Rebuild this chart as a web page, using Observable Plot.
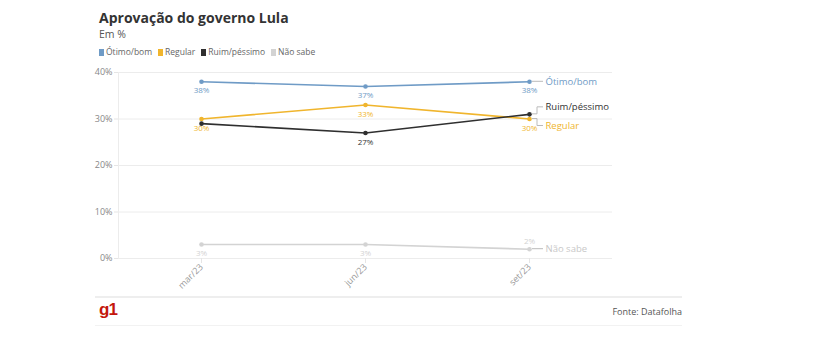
<!DOCTYPE html>
<html><head><meta charset="utf-8">
<script src="https://cdn.jsdelivr.net/npm/d3@7"></script>
<script src="https://cdn.jsdelivr.net/npm/@observablehq/plot@0.6"></script>
<style>
body{margin:0;background:#fff;font-family:"Open Sans",sans-serif;}
#wrap{position:relative;width:825px;height:342px;}
#title{position:absolute;left:99px;top:11px;font-size:14px;line-height:14px;font-weight:700;color:#333;}
#sub{position:absolute;left:99px;top:29px;font-size:10.5px;line-height:11px;color:#555;}
#legend{position:absolute;left:99px;top:46px;font-size:8.5px;color:#666;display:flex;gap:6px;}
#legend span.sw{display:inline-block;width:5px;height:7px;margin-right:2px;vertical-align:-1px;}
#chart{position:absolute;left:0;top:62px;}
#foot1{position:absolute;left:95px;width:587px;top:296px;height:2px;background:#eee;}
#foot2{position:absolute;left:95px;width:587px;top:325px;height:1px;background:#f2f2f2;}
#logo{position:absolute;left:99px;top:300px;font-family:"Liberation Sans",Arial,sans-serif;font-weight:700;font-size:17px;color:#c4170c;letter-spacing:-1px;}
#src{position:absolute;right:143px;top:305px;font-size:9px;color:#555;}
</style></head>
<body><div id="wrap">
<div id="title">Aprovação do governo Lula</div>
<div id="sub">Em %</div>
<div id="legend"></div>
<div id="chart"></div>
<div id="foot1"></div><div id="foot2"></div>
<div id="logo">g1</div>
<div id="src">Fonte: Datafolha</div>
</div>
<script>
const periods = ["mar/23", "jun/23", "set/23"];
const seriesNames = ["Ótimo/bom", "Regular", "Ruim/péssimo", "Não sabe"];
const seriesColors = ["#6f9bc6", "#f0b52d", "#2f2f2f", "#d3d3d3"];
const otimoBom = [38, 37, 38];
const regular = [30, 33, 30];
const ruimPessimo = [29, 27, 31];
const naoSabe = [3, 3, 2];
const yTicks = [0, 10, 20, 30, 40];

const valuesBySeries = [otimoBom, regular, ruimPessimo, naoSabe];
const data = [];
seriesNames.forEach((s, i) => valuesBySeries[i].forEach((v, j) => data.push({series: s, period: periods[j], value: v})));

const hidden = new Set(["Ruim/péssimo|mar/23", "Ruim/péssimo|set/23"]);
const above = new Set(["Não sabe|set/23"]);
const labelsBelow = data.filter(d => !hidden.has(d.series + "|" + d.period) && !above.has(d.series + "|" + d.period));
const labelsAbove = data.filter(d => above.has(d.series + "|" + d.period));
const last = data.filter(d => d.period === periods[periods.length - 1]);
const nudge = {"Ótimo/bom": 0, "Regular": 7, "Ruim/péssimo": -7, "Não sabe": 0};
const endColor = {"Ótimo/bom": "#6f9bc6", "Regular": "#f0b52d", "Ruim/péssimo": "#333", "Não sabe": "#c8c8c8"};

const lg = document.getElementById("legend");
seriesNames.forEach((s, i) => {
  const el = document.createElement("span");
  el.innerHTML = `<span class="sw" style="background:${seriesColors[i]}"></span>${s}`;
  lg.appendChild(el);
});

const color = d3.scaleOrdinal(seriesNames, seriesColors);

function connectors(index, scales, values, dimensions, context) {
  const g = d3.create("svg:g");
  last.forEach(d => {
    const x = scales.x(d.period);
    const y0 = scales.y(d.value);
    const y1 = y0 + nudge[d.series];
    g.append("path")
      .attr("d", `M${x + 3},${y0}H${x + 8}V${y1}H${x + 14}`)
      .attr("fill", "none").attr("stroke", "#bbb").attr("stroke-width", 1);
  });
  return g.node();
}

const endLabels = last.map(d => Plot.text([d], {x: "period", y: "value", text: "series", dx: 16, dy: nudge[d.series],
  textAnchor: "start", fill: endColor[d.series], fontSize: 9.5}));

const chart = Plot.plot({
  width: 825,
  height: 235,
  marginLeft: 118,
  marginRight: 213,
  marginTop: 10,
  marginBottom: 39,
  style: {fontFamily: "Open Sans, sans-serif", background: "transparent"},
  x: {type: "point", domain: periods, padding: 0.5},
  y: {domain: [0, 40]},
  marks: [
    Plot.gridY(yTicks, {stroke: "#ececec", strokeOpacity: 1}),
    Plot.frame({anchor: "left", stroke: "#ececec"}),
    Plot.axisY(yTicks, {tickFormat: d => d + "%", tickSize: 4, stroke: "#e5e5e5", fill: "#888", fontSize: 9, tickPadding: 2, label: null}),
    Plot.axisX({tickRotate: -45, tickSize: 5, stroke: "#e5e5e5", fill: "#999", fontSize: 9, tickPadding: 2, label: null}),
    connectors,
    Plot.line(data, {x: "period", y: "value", z: "series", stroke: d => color(d.series), strokeWidth: 1.6}),
    Plot.dot(data, {x: "period", y: "value", fill: d => color(d.series), r: 2.3}),
    Plot.text(labelsBelow, {x: "period", y: "value", text: d => d.value + "%", dy: 9, fill: d => d.series === "Ruim/péssimo" ? "#333" : color(d.series), fontSize: 8}),
    Plot.text(labelsAbove, {x: "period", y: "value", text: d => d.value + "%", dy: -8, fill: d => color(d.series), fontSize: 8}),
    ...endLabels
  ]
});
document.getElementById("chart").appendChild(chart);
</script>
</body></html>
